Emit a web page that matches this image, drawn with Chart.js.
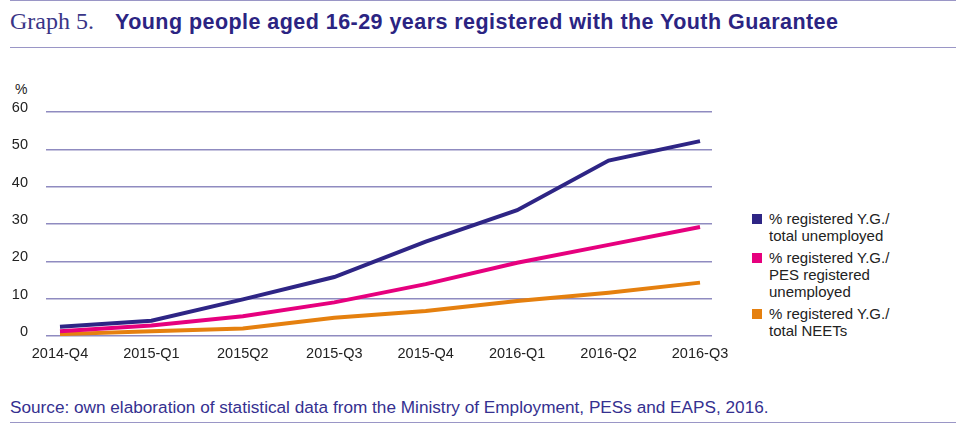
<!DOCTYPE html>
<html>
<head>
<meta charset="utf-8">
<script src="https://cdn.jsdelivr.net/npm/chart.js@4"></script>
<style>
  body { margin: 0; width: 956px; height: 424px; background: #fff; position: relative; overflow: hidden; font-family: "Liberation Sans", Arial, sans-serif; }
  .rule { position: absolute; left: 10px; right: 0; height: 0; border-top: 1.5px solid #9a96c6; }
  #title { position: absolute; left: 10px; top: 8px; white-space: nowrap; color: #2b2482; }
  #title .num { font-family: "Liberation Serif", serif; font-size: 24px; color: #3a3587; }
  #title .txt { font-family: "Liberation Sans", Arial, sans-serif; font-weight: bold; font-size: 21.5px; letter-spacing: 0.45px; margin-left: 21px; }
  #unit { position: absolute; left: 15px; top: 81px; font-size: 14px; color: #222; }
  #chartBox { position: absolute; left: 0; top: 90px; width: 745px; height: 286px; }
  #legend { position: absolute; left: 752px; top: 209.5px; font-size: 15px; color: #222; line-height: 17px; }
  #legend .item { position: relative; padding-left: 17px; margin-bottom: 5px; }
  #legend .sw { position: absolute; left: 0; top: 4px; width: 10px; height: 10px; }
  #source { position: absolute; left: 10px; top: 397px; font-size: 17.2px; color: #353090; white-space: nowrap; }
</style>
</head>
<body>
<div class="rule" style="top:0px"></div>
<div id="title"><span class="num">Graph 5.</span><span class="txt">Young people aged 16-29 years registered with the Youth Guarantee</span></div>
<div class="rule" style="top:47px"></div>
<div id="unit">%</div>
<div id="chartBox"><canvas id="chart"></canvas></div>
<div id="legend"></div>
<div id="source">Source: own elaboration of statistical data from the Ministry of Employment, PESs and EAPS, 2016.</div>
<div class="rule" style="top:422px"></div>

<script>
// Quarters on the x axis
const quarters = ["2014-Q4", "2015-Q1", "2015Q2", "2015-Q3", "2015-Q4", "2016-Q1", "2016-Q2", "2016-Q3"];

// Series values (%)
const totalUnemployed = [2.5, 4.1, 9.8, 15.8, 25.3, 33.7, 47.0, 52.2];
const pesUnemployed = [1.3, 2.8, 5.3, 9.0, 13.9, 19.6, 24.4, 29.2];
const totalNeets = [0.5, 1.3, 2.0, 4.9, 6.7, 9.4, 11.6, 14.3];

// Y axis ticks
const yTicks = [0, 10, 20, 30, 40, 50, 60];

const series = [
  { lines: ["% registered Y.G./", "total unemployed"], values: totalUnemployed, color: "#2e2585" },
  { lines: ["% registered Y.G./", "PES registered", "unemployed"], values: pesUnemployed, color: "#e6007e" },
  { lines: ["% registered Y.G./", "total NEETs"], values: totalNeets, color: "#e5800f" }
];

// Legend (multi-line labels, so built in HTML)
const legend = document.getElementById("legend");
series.forEach(function (s) {
  const item = document.createElement("div");
  item.className = "item";
  item.innerHTML = '<span class="sw" style="background:' + s.color + '"></span>' + s.lines.join("<br>");
  legend.appendChild(item);
});

// keep the plot area exactly where the layout padding puts it
function noPadding(scale) {
  scale.paddingLeft = 0;
  scale.paddingRight = 0;
  scale.paddingTop = 0;
  scale.paddingBottom = 0;
}

const ctx = document.getElementById("chart").getContext("2d");
new Chart(ctx, {
  type: "line",
  data: {
    datasets: series.map(function (s) {
      return {
        label: s.lines.join(" "),
        data: s.values.map(function (v, i) { return { x: i, y: v }; }),
        borderColor: s.color,
        backgroundColor: s.color,
        borderWidth: 4,
        pointRadius: 0,
        tension: 0,
        fill: false
      };
    })
  },
  options: {
    responsive: true,
    maintainAspectRatio: false,
    animation: false,
    layout: { padding: { top: 22, right: 33, left: 0, bottom: 0 } },
    plugins: { legend: { display: false }, tooltip: { enabled: false } },
    scales: {
      x: {
        type: "linear",
        min: -0.153,
        max: 7.131,
        afterBuildTicks: function (scale) {
          scale.ticks = quarters.map(function (q, i) { return { value: i }; });
        },
        afterFit: function (scale) { scale.height = 40; noPadding(scale); },
        ticks: {
          padding: 9,
          color: "#222",
          font: { family: "Liberation Sans", size: 14.5 },
          maxRotation: 0,
          autoSkip: false,
          callback: function (value) { return quarters[value]; }
        },
        grid: { display: false, drawTicks: false },
        border: { display: false }
      },
      y: {
        min: 0,
        max: 60,
        afterBuildTicks: function (scale) {
          scale.ticks = yTicks.map(function (v) { return { value: v }; });
        },
        afterFit: function (scale) { scale.width = 46; noPadding(scale); },
        ticks: {
          padding: 18,
          labelOffset: -4,
          color: "#222",
          font: { family: "Liberation Sans", size: 14.5 }
        },
        grid: { color: "#8f8bc0", lineWidth: 1.4, drawTicks: false },
        border: { display: false }
      }
    }
  }
});
</script>
</body>
</html>
